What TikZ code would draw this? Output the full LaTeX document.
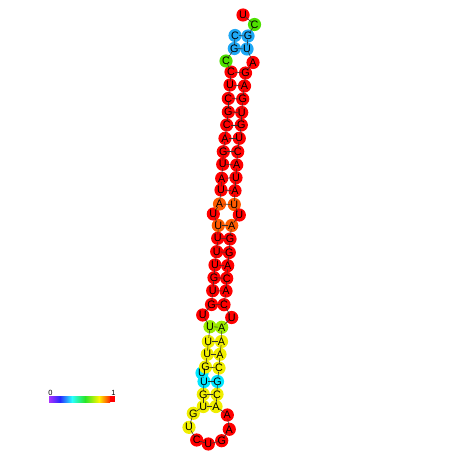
\documentclass[tikz,border=0pt]{standalone}
\usepackage{fontspec}
\setmainfont{Liberation Sans}
\pgfdeclarelayer{fg}
\pgfsetlayers{main,fg}
\definecolor{cred}{HTML}{FF0000}
\definecolor{corange}{HTML}{FF5A00}
\definecolor{cyellow}{HTML}{F0EE00}
\definecolor{clime}{HTML}{9CEB00}
\definecolor{cgreen}{HTML}{4EE000}
\definecolor{cblue}{HTML}{1EA8F5}
\definecolor{ccyan}{HTML}{00E6FF}
\definecolor{lnk}{HTML}{333333}
\newcommand{\nuc}[5]{%
  \node[ntcirc,fill=#4] (n#1) at (#2,#3) {};
  \begin{pgfonlayer}{fg}\node[ntlet] (l#1) at (#2,#3) {#5};\end{pgfonlayer}}
\begin{document}
\begin{tikzpicture}[x=1pt,y=-1pt,
  ntcirc/.style={circle,minimum size=13.2pt,inner sep=0pt,draw=none},
  ntlet/.style={inner sep=0pt,font=\fontsize{10.8}{11}\selectfont},
  bb/.style={draw=lnk,line width=0.55pt,shorten <=3.6pt,shorten >=3.6pt},
  bp/.style={draw=lnk,line width=0.55pt,shorten <=3.8pt,shorten >=3.8pt},
  lab/.style={inner sep=0pt,font=\fontsize{7.5}{8}\selectfont}]
\useasboundingbox (0,0) rectangle (452,452);
\fill[white] (0,0) rectangle (452,452);
% nucleotides
\nuc{1}{243}{15}{cred}{U}
\nuc{2}{254.5}{24.5}{cgreen}{C}
\nuc{3}{248}{36}{cblue}{G}
\nuc{4}{247}{49}{cblue}{U}
\nuc{5}{253}{62.5}{cred}{A}
\nuc{6}{245.5}{73}{cred}{G}
\nuc{7}{244.5}{86}{cred}{A}
\nuc{8}{242.7}{99}{cred}{G}
\nuc{9}{241.7}{112.5}{cred}{U}
\nuc{10}{241.3}{125}{cred}{G}
\nuc{11}{239.3}{138.3}{cred}{U}
\nuc{12}{237.7}{151.7}{cred}{C}
\nuc{13}{236.7}{165}{cred}{A}
\nuc{14}{236}{177.7}{cred}{U}
\nuc{15}{235}{190.7}{cred}{A}
\nuc{16}{234.3}{204.5}{corange}{U}
\nuc{17}{239.3}{215}{cred}{U}
\nuc{18}{231.7}{225.5}{corange}{A}
\nuc{19}{230}{239}{cred}{G}
\nuc{20}{229.3}{252.5}{cred}{G}
\nuc{21}{227.7}{265.7}{cred}{A}
\nuc{22}{226.7}{278.3}{cred}{C}
\nuc{23}{226}{291}{cred}{A}
\nuc{24}{224}{304.7}{cred}{C}
\nuc{25}{231.7}{317.5}{cred}{U}
\nuc{26}{221.7}{327.3}{clime}{A}
\nuc{27}{221.5}{341.5}{cyellow}{A}
\nuc{28}{220}{354.3}{cyellow}{A}
\nuc{29}{219}{368}{cyellow}{C}
\nuc{30}{217.5}{381.5}{ccyan}{G}
\nuc{31}{217}{394.3}{cyellow}{C}
\nuc{32}{216}{406.5}{cyellow}{A}
\nuc{33}{227.3}{415}{cred}{A}
\nuc{34}{229.3}{429.3}{cred}{A}
\nuc{35}{221.7}{440.7}{cred}{G}
\nuc{36}{208.3}{444}{cred}{U}
\nuc{37}{196.7}{440}{cred}{C}
\nuc{38}{189}{427.3}{cyellow}{U}
\nuc{39}{193.3}{413.3}{cyellow}{G}
\nuc{40}{203.3}{406.5}{cyellow}{U}
\nuc{41}{203.3}{394.3}{cyellow}{G}
\nuc{43}{202}{373}{ccyan}{U}
\nuc{42}{204}{381.5}{ccyan}{U}
\nuc{44}{205.5}{367}{cyellow}{G}
\nuc{45}{207.3}{354.3}{cyellow}{U}
\nuc{46}{208.3}{341.5}{cyellow}{U}
\nuc{47}{210}{326.7}{clime}{U}
\nuc{48}{202.7}{315}{cred}{U}
\nuc{49}{211.5}{304.5}{cred}{G}
\nuc{50}{212.7}{290.7}{cred}{U}
\nuc{51}{214}{277.7}{cred}{G}
\nuc{52}{215}{265}{cred}{U}
\nuc{53}{216.7}{251.7}{cred}{U}
\nuc{54}{217.7}{238.3}{cred}{U}
\nuc{55}{218.3}{225.5}{corange}{U}
\nuc{56}{213.3}{214}{cred}{U}
\nuc{57}{219.5}{204}{corange}{A}
\nuc{58}{221}{190}{cred}{U}
\nuc{59}{221.7}{178.3}{cred}{A}
\nuc{60}{222.7}{164.3}{cred}{U}
\nuc{61}{223.3}{151.7}{cred}{G}
\nuc{62}{225}{138.3}{cred}{A}
\nuc{63}{226.7}{125}{cred}{C}
\nuc{64}{228.3}{112}{cred}{G}
\nuc{65}{228.3}{98.5}{cred}{C}
\nuc{66}{230}{85}{cred}{U}
\nuc{67}{231}{72}{cred}{C}
\nuc{68}{226}{61}{cgreen}{C}
\nuc{69}{234.3}{48.5}{cblue}{G}
\nuc{70}{235}{35.5}{cblue}{C}
% backbone
\foreach \i [evaluate=\i as \j using int(\i+1)] in {1,...,69}
  \draw[bb] (n\i.center) -- (n\j.center);
% base pairs
\foreach \a/\b in {3/70,4/69,6/67,7/66,8/65,9/64,10/63,11/62,12/61,13/60,14/59,15/58,
  16/57,18/55,19/54,20/53,21/52,22/51,23/50,24/49,26/47,27/46,28/45,29/44,30/42,31/41,32/40}
  \draw[bp] (n\a.center) -- (n\b.center);
% colour bar
\shade[left color={rgb,255:red,170;green,50;blue,255},right color={rgb,255:red,40;green,40;blue,255}] (49,396) rectangle (60,402.3);
\shade[left color={rgb,255:red,40;green,40;blue,255},right color={rgb,255:red,40;green,255;blue,255}] (60,396) rectangle (72,402.3);
\shade[left color={rgb,255:red,40;green,255;blue,255},right color={rgb,255:red,40;green,230;blue,40}] (72,396) rectangle (85,402.3);
\shade[left color={rgb,255:red,40;green,230;blue,40},right color={rgb,255:red,255;green,245;blue,0}] (85,396) rectangle (99,402.3);
\shade[left color={rgb,255:red,255;green,245;blue,0},right color={rgb,255:red,255;green,40;blue,0}] (99,396) rectangle (110,402.3);
\fill[cred] (110,396) rectangle (115,402.3);
\node[lab] (z0) at (50.5,392.7) {0};
\node[lab] (z1) at (113.5,392.7) {1};
\end{tikzpicture}
\end{document}
